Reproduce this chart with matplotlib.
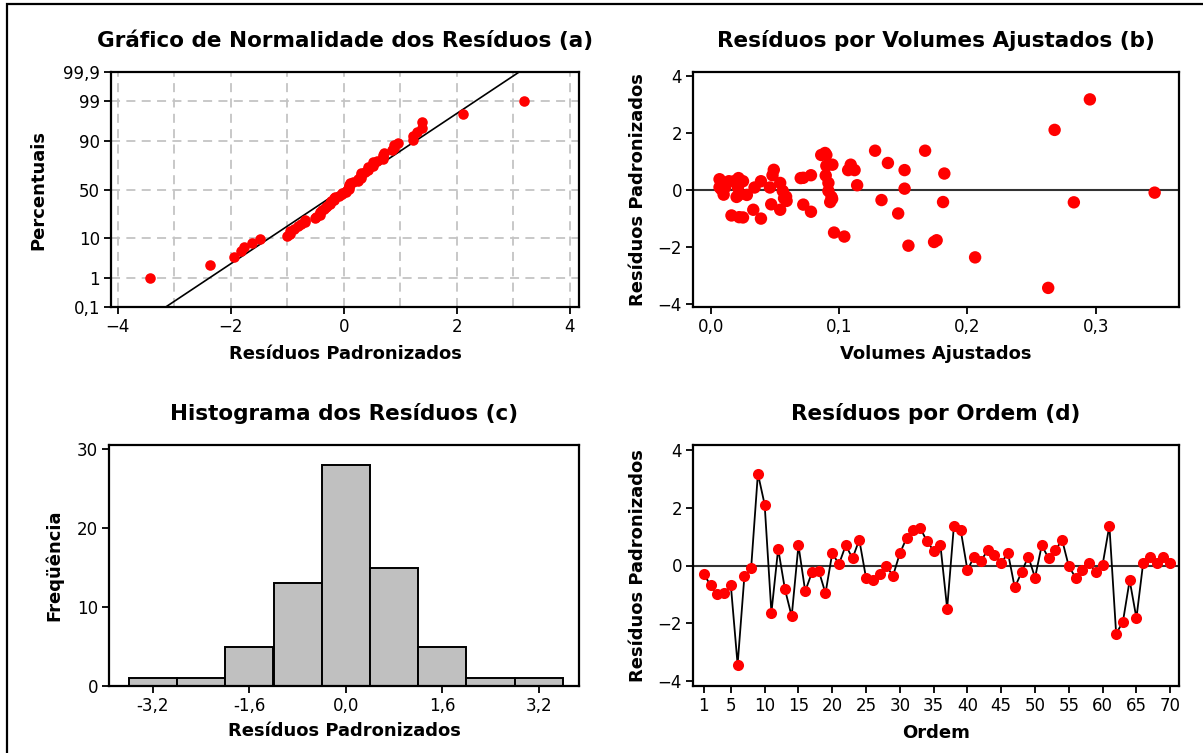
from statistics import NormalDist

import matplotlib
matplotlib.use("Agg")
import matplotlib.pyplot as plt
from matplotlib.patches import Rectangle
from matplotlib.ticker import FixedLocator, MultipleLocator
import numpy as np

# standardized residuals, in observation order (1..70)
residuos = [
    -0.29, -0.69, -1.00, -0.95, -0.69, -3.43, -0.38, -0.09, 3.18, 2.11,
    -1.63, 0.58, -0.82, -1.76, 0.70, -0.89, -0.24, -0.18, -0.96, 0.42,
    0.05, 0.70, 0.25, 0.89, -0.43, -0.50, -0.31, -0.03, -0.35, 0.42,
    0.95, 1.23, 1.30, 0.85, 0.51, 0.71, -1.49, 1.38, 1.23, -0.16,
    0.31, 0.17, 0.52, 0.38, 0.09, 0.43, -0.76, -0.24, 0.31, -0.42,
    0.70, 0.25, 0.52, 0.89, -0.03, -0.42, -0.17, 0.09, -0.23, 0.03,
    1.38, -2.36, -1.95, -0.51, -1.82, 0.09, 0.31, 0.09, 0.31, 0.10,
]

# fitted volumes for the same observations
volumes_ajustados = [
    0.057, 0.054, 0.039, 0.022, 0.033, 0.263, 0.059, 0.346, 0.2955, 0.268,
    0.104, 0.182, 0.146, 0.176, 0.151, 0.016, 0.094, 0.0215, 0.025, 0.070,
    0.151, 0.107, 0.054, 0.109, 0.283, 0.047, 0.0945, 0.0916, 0.133, 0.0215,
    0.138, 0.086, 0.089, 0.090, 0.0895, 0.049, 0.096, 0.128, 0.090, 0.0099,
    0.039, 0.114, 0.048, 0.0067, 0.034, 0.072, 0.078, 0.020, 0.014, 0.093,
    0.112, 0.0916, 0.078, 0.0947, 0.056, 0.181, 0.028, 0.046, 0.0586, 0.008,
    0.167, 0.206, 0.154, 0.072, 0.174, 0.011, 0.018, 0.021, 0.025, 0.0067,
]

percentuais_ticks = [0.1, 1, 10, 50, 90, 99, 99.9]
percentuais_labels = ["0,1", "1", "10", "50", "90", "99", "99,9"]
hist_bordas = [-3.6, -2.8, -2.0, -1.2, -0.4, 0.4, 1.2, 2.0, 2.8, 3.6]
hist_ticks = [-3.2, -1.6, 0.0, 1.6, 3.2]
hist_labels = ["-3,2", "-1,6", "0,0", "1,6", "3,2"]
vol_ticks = [0.0, 0.1, 0.2, 0.3]
vol_labels = ["0,0", "0,1", "0,2", "0,3"]
ordem_ticks = [1, 5, 10, 15, 20, 25, 30, 35, 40, 45, 50, 55, 60, 65, 70]

W, H = 1203, 753
VERMELHO = "#ff0000"
plt.rcParams["font.family"] = "DejaVu Sans"
plt.rcParams["font.size"] = 12

fig = plt.figure(figsize=(W / 100, H / 100), dpi=100)
fig.patch.set_facecolor("white")
# outer frame (left and top edges visible)
fig.add_artist(Rectangle((7 / W, -0.1), 1.2, 1.1 - 4 / H, transform=fig.transFigure,
                         fill=False, lw=1.6, edgecolor="black"))


def eixo(x0, x1, y0, y1):
    return fig.add_axes([x0 / W, 1 - y1 / H, (x1 - x0) / W, (y1 - y0) / H])


def estilo(ax, titulo, xlabel, ylabel, box, ylab_right, xlab_top):
    x0, x1, y0, y1 = box
    for s in ax.spines.values():
        s.set_linewidth(1.6)
    ax.tick_params(direction="out", length=5, width=1.3, labelsize=12, pad=3)
    ax.tick_params(which="minor", length=0)
    ax.set_title(titulo, fontsize=15.5, fontweight="bold", pad=18)
    ax.set_xlabel(xlabel, fontsize=13, fontweight="bold", va="top")
    ax.set_ylabel(ylabel, fontsize=13, fontweight="bold")
    ax.xaxis.set_label_coords(0.5, 1 - (xlab_top - y0) / (y1 - y0))
    ax.yaxis.set_label_coords((ylab_right - x0) / (x1 - x0), 0.5)


res = np.array(residuos)
n = len(res)

# (a) normal probability plot
box_a = (111, 579, 72, 307)
ax = eixo(*box_a)
nd = NormalDist()
ordenados = np.sort(res)
pos = (np.arange(1, n + 1) - 0.3) / (n + 0.4)
z = np.array([nd.inv_cdf(p) for p in pos])
mu, sd = res.mean(), res.std(ddof=1)
zl = np.linspace(-3.4, 3.4, 50)
for zz in [nd.inv_cdf(p / 100) for p in percentuais_ticks[1:-1]]:
    ax.axhline(zz, color="#c4c4c4", lw=1.3, ls=(0, (5, 3.5)), zorder=0)
for xx in range(-4, 5):
    ax.axvline(xx, color="#c4c4c4", lw=1.3, ls=(0, (5, 3.5)), zorder=0)
ax.plot(mu + sd * zl, zl, color="black", lw=1.2, zorder=2)
ax.plot(ordenados, z, "o", color=VERMELHO, ms=7.6, mec="none", zorder=3)
ax.set_xlim(-4.12, 4.16)
ax.set_ylim(nd.inv_cdf(0.001), nd.inv_cdf(0.999))
ax.yaxis.set_major_locator(FixedLocator([nd.inv_cdf(p / 100) for p in percentuais_ticks]))
ax.set_yticklabels(percentuais_labels)
ax.xaxis.set_major_locator(MultipleLocator(2))
estilo(ax, "Gráfico de Normalidade dos Resíduos (a)", "Resíduos Padronizados",
       "Percentuais", box_a, 47, 345)

# (b) residuals versus fitted volumes
box_b = (693, 1179, 72, 307)
ax = eixo(*box_b)
ax.axhline(0, color="#333333", lw=1.5, zorder=1)
ax.scatter(volumes_ajustados, residuos, s=80, color=VERMELHO, edgecolors="none", zorder=3)
ax.set_xlim(-0.014, 0.365)
ax.set_ylim(-4.1, 4.14)
ax.set_xticks(vol_ticks)
ax.set_xticklabels(vol_labels)
ax.set_yticks([-4, -2, 0, 2, 4])
estilo(ax, "Resíduos por Volumes Ajustados (b)", "Volumes Ajustados",
       "Resíduos Padronizados", box_b, 647, 345)

# (c) histogram of residuals
box_c = (109, 579, 445, 686)
ax = eixo(*box_c)
ax.hist(res, bins=hist_bordas, color="#c0c0c0", edgecolor="black", linewidth=1.4)
ax.set_xlim(-3.93, 3.87)
ax.set_ylim(0, 30.55)
ax.set_xticks(hist_ticks)
ax.set_xticklabels(hist_labels)
ax.set_yticks([0, 10, 20, 30])
estilo(ax, "Histograma dos Resíduos (c)", "Resíduos Padronizados",
       "Freqüência", box_c, 63, 722)

# (d) residuals versus observation order
box_d = (693, 1179, 445, 686)
ax = eixo(*box_d)
ordem = np.arange(1, n + 1)
ax.axhline(0, color="#333333", lw=1.5, zorder=1)
ax.plot(ordem, res, "-", color="black", lw=1.3, zorder=2)
ax.plot(ordem, res, "o", color=VERMELHO, ms=8, mec="none", zorder=3)
ax.set_xlim(-0.6, 71.3)
ax.set_ylim(-4.17, 4.17)
ax.set_xticks(ordem_ticks)
ax.set_yticks([-4, -2, 0, 2, 4])
estilo(ax, "Resíduos por Ordem (d)", "Ordem", "Resíduos Padronizados",
       box_d, 647, 724)

fig.savefig("out.png", dpi=100, facecolor="white")
